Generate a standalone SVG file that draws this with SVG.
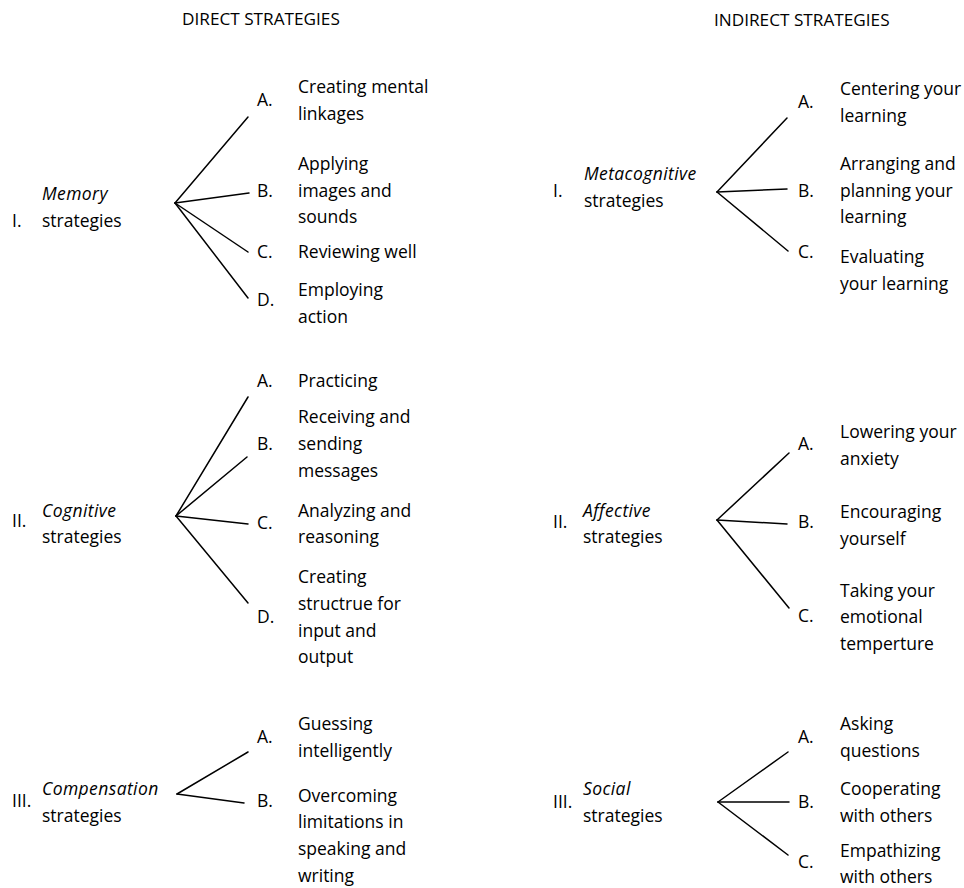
<svg xmlns="http://www.w3.org/2000/svg" width="964" height="888" viewBox="0 0 964 888">
<style>
text{font-family:"Open Sans","Noto Sans","Liberation Sans",sans-serif;font-size:17.5px;fill:#000}
.h{font-size:17.2px}
.it{font-style:italic;letter-spacing:0.4px}
.c line{stroke:#000;stroke-width:1.5;stroke-linecap:round}
</style>
<rect width="964" height="888" fill="#fff"/>
<text class="h" x="182" y="25">DIRECT STRATEGIES</text>
<text class="h" x="714" y="26">INDIRECT STRATEGIES</text>

<g class="c" id="connectors">
<line x1="175" y1="203" x2="248" y2="117"/>
<line x1="175" y1="203" x2="249" y2="193"/>
<line x1="175" y1="203" x2="248" y2="252"/>
<line x1="175" y1="203" x2="248" y2="298"/>

<line x1="176" y1="516" x2="248" y2="397"/>
<line x1="176" y1="516" x2="247" y2="457"/>
<line x1="176" y1="516" x2="248" y2="524"/>
<line x1="176" y1="516" x2="248" y2="603"/>

<line x1="177" y1="794" x2="248" y2="752"/>
<line x1="177" y1="794" x2="244" y2="803"/>

<line x1="717" y1="192" x2="787" y2="118"/>
<line x1="717" y1="192" x2="787" y2="189"/>
<line x1="717" y1="192" x2="788" y2="251"/>

<line x1="717" y1="520" x2="789" y2="453"/>
<line x1="717" y1="520" x2="787" y2="524"/>
<line x1="717" y1="520" x2="789" y2="608"/>

<line x1="718" y1="802" x2="788" y2="752"/>
<line x1="718" y1="802" x2="789" y2="802"/>
<line x1="718" y1="802" x2="788" y2="855"/>
</g>

<g id="memory">
<text x="12" y="227">I.</text>
<text class="it" x="42" y="200">Memory</text>
<text x="42" y="227">strategies</text>
</g>
<g id="memory-a">
<text x="257" y="106">A.</text>
<text x="298" y="93">Creating mental</text>
<text x="298" y="120">linkages</text>
</g>
<g id="memory-b">
<text x="257" y="197">B.</text>
<text x="298" y="170">Applying</text>
<text x="298" y="197">images and</text>
<text x="298" y="223">sounds</text>
</g>
<g id="memory-c">
<text x="257" y="258">C.</text>
<text x="298" y="258">Reviewing well</text>
</g>
<g id="memory-d">
<text x="257" y="306">D.</text>
<text x="298" y="296">Employing</text>
<text x="298" y="323">action</text>
</g>

<g id="cognitive">
<text x="12" y="527">II.</text>
<text class="it" x="42" y="517">Cognitive</text>
<text x="42" y="543">strategies</text>
</g>
<g id="cognitive-a">
<text x="257" y="387">A.</text>
<text x="298" y="387">Practicing</text>
</g>
<g id="cognitive-b">
<text x="257" y="450">B.</text>
<text x="298" y="423">Receiving and</text>
<text x="298" y="450">sending</text>
<text x="298" y="477">messages</text>
</g>
<g id="cognitive-c">
<text x="257" y="529">C.</text>
<text x="298" y="517">Analyzing and</text>
<text x="298" y="543">reasoning</text>
</g>
<g id="cognitive-d">
<text x="257" y="623">D.</text>
<text x="298" y="583">Creating</text>
<text x="298" y="610">structrue for</text>
<text x="298" y="637">input and</text>
<text x="298" y="663">output</text>
</g>

<g id="compensation">
<text x="12" y="807">III.</text>
<text class="it" x="42" y="795">Compensation</text>
<text x="42" y="822">strategies</text>
</g>
<g id="compensation-a">
<text x="257" y="743">A.</text>
<text x="298" y="730">Guessing</text>
<text x="298" y="757">intelligently</text>
</g>
<g id="compensation-b">
<text x="257" y="807">B.</text>
<text x="298" y="802">Overcoming</text>
<text x="298" y="828">limitations in</text>
<text x="298" y="855">speaking and</text>
<text x="298" y="882">writing</text>
</g>

<g id="metacognitive">
<text x="553" y="197">I.</text>
<text class="it" x="584" y="180">Metacognitive</text>
<text x="584" y="207">strategies</text>
</g>
<g id="metacognitive-a">
<text x="798" y="108">A.</text>
<text x="840" y="95">Centering your</text>
<text x="840" y="122">learning</text>
</g>
<g id="metacognitive-b">
<text x="798" y="197">B.</text>
<text x="840" y="170">Arranging and</text>
<text x="840" y="197">planning your</text>
<text x="840" y="223">learning</text>
</g>
<g id="metacognitive-c">
<text x="798" y="258">C.</text>
<text x="840" y="263">Evaluating</text>
<text x="840" y="290">your learning</text>
</g>

<g id="affective">
<text x="553" y="528">II.</text>
<text class="it" x="583" y="517">Affective</text>
<text x="583" y="543">strategies</text>
</g>
<g id="affective-a">
<text x="798" y="450">A.</text>
<text x="840" y="438">Lowering your</text>
<text x="840" y="465">anxiety</text>
</g>
<g id="affective-b">
<text x="798" y="528">B.</text>
<text x="840" y="518">Encouraging</text>
<text x="840" y="545">yourself</text>
</g>
<g id="affective-c">
<text x="798" y="622">C.</text>
<text x="840" y="597">Taking your</text>
<text x="840" y="623">emotional</text>
<text x="840" y="650">temperture</text>
</g>

<g id="social">
<text x="553" y="808">III.</text>
<text class="it" x="583" y="795">Social</text>
<text x="583" y="822">strategies</text>
</g>
<g id="social-a">
<text x="798" y="743">A.</text>
<text x="840" y="730">Asking</text>
<text x="840" y="757">questions</text>
</g>
<g id="social-b">
<text x="798" y="808">B.</text>
<text x="840" y="795">Cooperating</text>
<text x="840" y="822">with others</text>
</g>
<g id="social-c">
<text x="798" y="868">C.</text>
<text x="840" y="857">Empathizing</text>
<text x="840" y="883">with others</text>
</g>
</svg>
